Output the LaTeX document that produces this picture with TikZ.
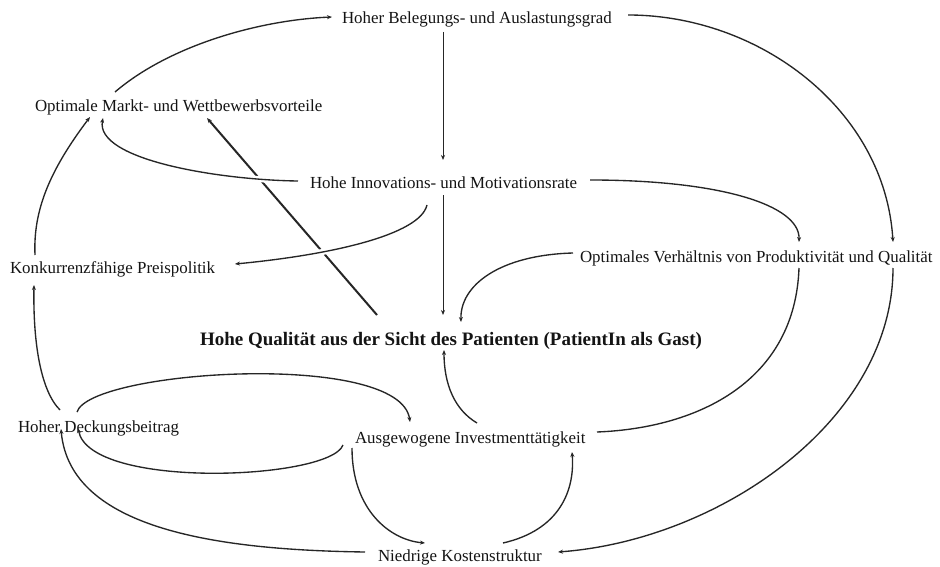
\documentclass[tikz,border=0pt]{standalone}
\usepackage{fontspec}
\setmainfont{Liberation Serif}
\usetikzlibrary{arrows.meta,calc}
\begin{document}
\begin{tikzpicture}[x=1pt,y=-1pt,
  lbl/.style={anchor=base west,inner sep=0pt,outer sep=0pt,text=black!92,
    font=\fontsize{16.9}{20}\selectfont},
  hub/.style={lbl,font=\fontsize{19}{22}\selectfont\bfseries},
  conn/.style={draw=black!85,line width=1.35pt,-{Stealth[length=5pt,width=4pt]}},
  plain/.style={draw=black!85,line width=1.35pt},
  thick conn/.style={conn,line width=2pt},
  gap/.style={preaction={draw=white,line width=6pt,-}}]
\useasboundingbox[fill=white] (0,0) rectangle (940,567);

% factors
\node[lbl] (bel) at (342,24) {Hoher Belegungs- und Auslastungsgrad};
\node[lbl] (mkt) at (35,112) {Optimale Markt- und Wettbewerbsvorteile};
\node[lbl] (inn) at (310,188) {Hohe Innovations- und Motivationsrate};
\node[lbl] (prs) at (10,273) {Konkurrenzfähige Preispolitik};
\node[lbl] (pq)  at (580,262) {Optimales Verhältnis von Produktivität und Qualität};
\node[hub] (ql)  at (200,345) {Hohe Qualität aus der Sicht des Patienten (PatientIn als Gast)};
\node[lbl] (db)  at (18,432) {Hoher Deckungsbeitrag};
\node[lbl] (inv) at (355,443) {Ausgewogene Investmenttätigkeit};
\node[lbl] (ks)  at (378,561) {Niedrige Kostenstruktur};

% straight link from quality to market advantages
\draw[thick conn] ($(ql.base west)+(177,-30)$) -- ($(mkt.base west)+(172,6)$);

% links crossing it, with a small gap
\draw[conn,gap] ($(inn.base west)+(-12,-7)$) .. controls (220,180) and (95,160) .. ($(mkt.base west)+(68,6)$);
\draw[conn,gap] ($(inn.base west)+(117,17)$) .. controls (420,235) and (330,255) .. ($(prs.base west)+(225,-9)$);

% outer left chain
\draw[conn] ($(mkt.base west)+(80,-20)$) .. controls (170,45) and (260,20) .. ($(bel.base west)+(-10,-7)$);
\draw[conn] ($(prs.base west)+(25,-18)$) .. controls (33,210) and (50,170) .. ($(mkt.base west)+(55,5)$);
\draw[conn] ($(db.base west)+(42,-22)$) .. controls (40,390) and (33,340) .. ($(prs.base west)+(24,12)$);
\draw[conn] ($(ks.base west)+(-13,-9)$) .. controls (220,550) and (70,530) .. ($(db.base west)+(43,-3)$);

% loop between contribution margin and investment
\draw[conn] ($(inv.base west)+(-12,2)$) .. controls (330,480) and (90,490) .. ($(db.base west)+(60,-4)$);
\draw[conn] ($(db.base west)+(59,-20)$) .. controls (90,370) and (400,350) .. ($(inv.base west)+(55,-21)$);

% investment and cost structure
\draw[conn] ($(inv.base west)+(-3,5)$) .. controls (352,510) and (390,540) .. ($(ks.base west)+(47,-18)$);
\draw[conn] ($(ks.base west)+(125,-18)$) .. controls (560,530) and (575,490) .. ($(inv.base west)+(217,9)$);
\draw[conn] ($(inv.base west)+(122,-20)$) .. controls (455,410) and (444,385) .. ($(ql.base west)+(244,5)$);

% productivity / quality ratio
\draw[plain] ($(pq.base west)+(219,6)$) .. controls (795,380) and (700,428) .. ($(inv.base west)+(242,-11)$);
\draw[conn] ($(inn.base west)+(280,-8)$) .. controls (720,180) and (800,205) .. ($(pq.base west)+(219,-20)$);
\draw[conn] ($(bel.base west)+(286,-9)$) .. controls (760,15) and (885,110) .. ($(pq.base west)+(313,-20)$);
\draw[conn] ($(pq.base west)+(313,6)$) .. controls (893,420) and (720,540) .. ($(ks.base west)+(180,-9)$);
\draw[conn] ($(pq.base west)+(-7,-9)$) .. controls (500,255) and (460,285) .. ($(ql.base west)+(261,-23)$);

% central vertical axis
\draw[conn,line width=1pt] ($(bel.base west)+(101,8)$) -- ($(inn.base west)+(133,-28)$);
\draw[conn,line width=1pt] ($(inn.base west)+(133,7)$) -- ($(ql.base west)+(243,-30)$);
\end{tikzpicture}
\end{document}
